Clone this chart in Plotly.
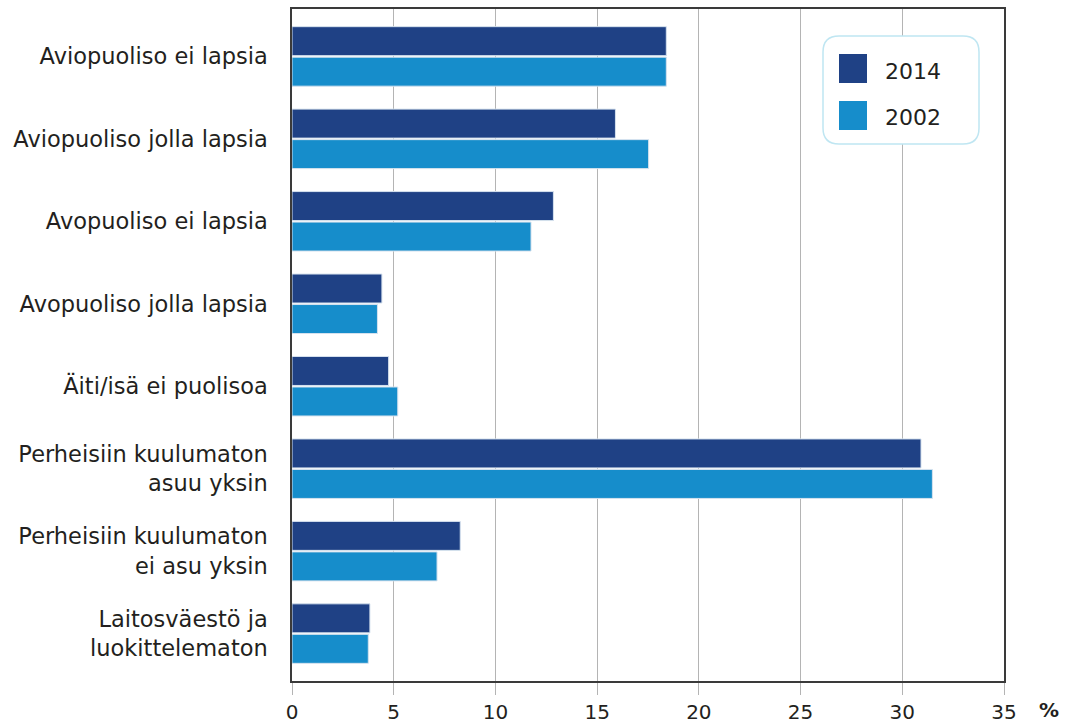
import plotly.graph_objects as go

# categories (top to bottom) and values in %
categories = [
    'Aviopuoliso ei lapsia',
    'Aviopuoliso jolla lapsia',
    'Avopuoliso ei lapsia',
    'Avopuoliso jolla lapsia',
    'Äiti/isä ei puolisoa',
    'Perheisiin kuulumaton<br>asuu yksin',
    'Perheisiin kuulumaton<br>ei asu yksin',
    'Laitosväestö ja<br>luokittelematon',
]
values_2014 = [18.4, 15.9, 12.85, 4.42, 4.75, 30.92, 8.27, 3.83]
values_2002 = [18.4, 17.53, 11.75, 4.2, 5.2, 31.48, 7.13, 3.75]
series_names = ['2014', '2002']
x_ticks = [0, 5, 10, 15, 20, 25, 30, 35]

colors = {
    '2014': '#1f4185',
    '2002': '#168dcb',
    'text': '#231f20',
    'grid': '#b4b4b4',
    'axis': '#3a3a3a',
    'legend_border': '#bfe6f2',
}

W, H = 1066, 723
margin = dict(l=292, r=62, t=9, b=42)
plot_w = W - margin['l'] - margin['r']
plot_h = H - margin['t'] - margin['b']


def px(x, y):
    # pixel position on the page -> paper coordinates
    return (x - margin['l']) / plot_w, (H - margin['b'] - y) / plot_h


fig = go.Figure()
for name, vals in zip(series_names, [values_2014, values_2002]):
    fig.add_trace(go.Bar(
        name=name,
        y=categories,
        x=vals,
        orientation='h',
        marker=dict(color=colors[name], line=dict(color='#d6e2ee', width=1)),
        showlegend=False,
    ))

# legend drawn by hand: rounded box, big squares, text
def rounded_rect(x0, y0, x1, y1, r):
    a0, b0 = px(x0, y0)
    a1, b1 = px(x1, y1)
    rx = r / plot_w
    ry = r / plot_h
    return (f'M {a0 + rx},{b0} L {a1 - rx},{b0} Q {a1},{b0} {a1},{b0 - ry} '
            f'L {a1},{b1 + ry} Q {a1},{b1} {a1 - rx},{b1} '
            f'L {a0 + rx},{b1} Q {a0},{b1} {a0},{b1 + ry} '
            f'L {a0},{b0 - ry} Q {a0},{b0} {a0 + rx},{b0} Z')


shapes = [dict(type='path', xref='paper', yref='paper',
               path=rounded_rect(823, 36, 979, 144, 16),
               line=dict(color=colors['legend_border'], width=1.5),
               fillcolor='white', layer='above')]
annotations = []
for i, name in enumerate(series_names):
    top = 54 + i * 47
    a0, b0 = px(839, top)
    a1, b1 = px(867, top + 29)
    shapes.append(dict(type='rect', xref='paper', yref='paper',
                       x0=a0, x1=a1, y0=b1, y1=b0,
                       fillcolor=colors[name], line=dict(width=0), layer='above'))
    tx, ty = px(883, top + 17)
    annotations.append(dict(text=name, xref='paper', yref='paper', x=tx, y=ty,
                            xanchor='left', yanchor='middle', showarrow=False,
                            font=dict(size=22, color=colors['text'])))

# % unit next to the last tick
ux, uy = px(1049, 710)
annotations.append(dict(text='<b>%</b>', xref='paper', yref='paper', x=ux, y=uy,
                        xanchor='center', yanchor='middle', showarrow=False,
                        font=dict(size=20, color=colors['text'])))

fig.update_layout(
    width=W, height=H,
    margin=margin,
    barmode='group',
    bargap=0.26,
    bargroupgap=0.05,
    plot_bgcolor='white',
    paper_bgcolor='white',
    font=dict(family='DejaVu Sans', size=19, color=colors['text']),
    shapes=shapes,
    annotations=annotations,
    xaxis=dict(
        range=[0, 35],
        tickvals=x_ticks,
        showgrid=True,
        gridcolor=colors['grid'],
        gridwidth=1,
        ticks='outside',
        ticklen=12,
        tickcolor=colors['grid'],
        tickfont=dict(size=20),
        showline=True,
        linecolor=colors['axis'],
        linewidth=1.5,
        mirror=True,
        zeroline=False,
        automargin=False,
        fixedrange=True,
    ),
    yaxis=dict(
        range=[7.575, -0.575],
        showgrid=False,
        ticks='',
        ticklabelstandoff=18,
        tickfont=dict(size=22.5),
        showline=True,
        linecolor=colors['axis'],
        linewidth=1.5,
        mirror=True,
        automargin=False,
        fixedrange=True,
    ),
)

# page body margin off so the figure sits at the window origin
fig.write_html("out.html", config={'displayModeBar': False},
               post_script="document.body.style.margin='0';")
